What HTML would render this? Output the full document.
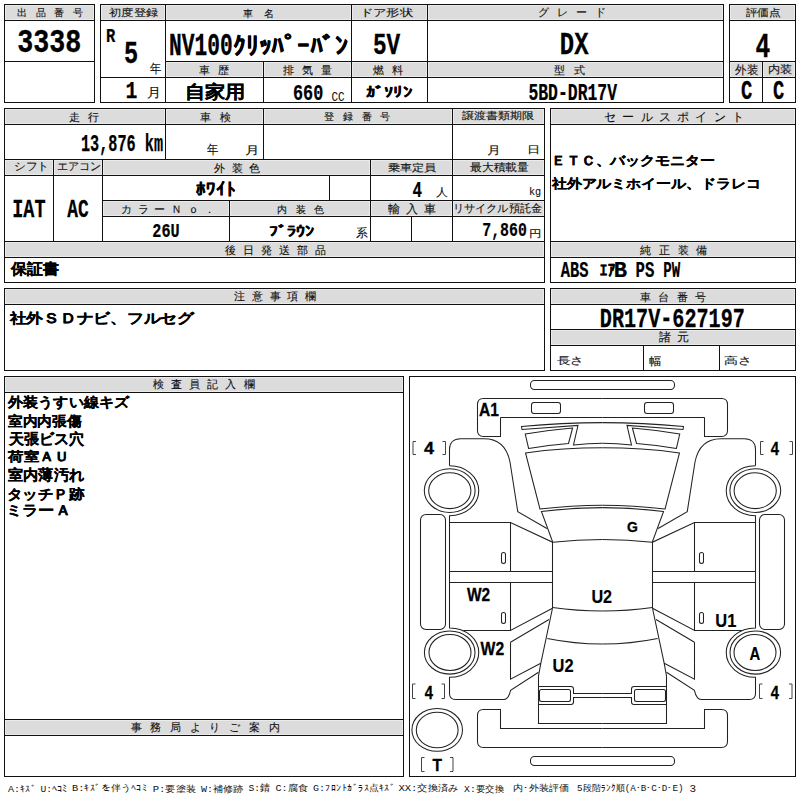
<!DOCTYPE html>
<html><head><meta charset="utf-8"><style>
html,body{margin:0;padding:0;background:#fff;width:800px;height:800px;overflow:hidden}
svg{display:block;font-family:"Liberation Sans",sans-serif}
</style></head><body>
<svg width="800" height="800" viewBox="0 0 800 800">
<rect x="0" y="0" width="800" height="800" fill="#fff"/>
<rect x="4" y="4" width="90" height="16" fill="#dcdcdc"/>
<rect x="4" y="4" width="91" height="1" fill="#111"/>
<rect x="4" y="102" width="91" height="1" fill="#111"/>
<rect x="4" y="4" width="1" height="99" fill="#111"/>
<rect x="94" y="4" width="1" height="99" fill="#111"/>
<rect x="4" y="20" width="91" height="1" fill="#111"/>
<rect x="4" y="61" width="91" height="1" fill="#111"/>
<rect x="100" y="4" width="623" height="16" fill="#dcdcdc"/>
<rect x="165" y="61" width="558" height="16" fill="#dcdcdc"/>
<rect x="100" y="4" width="624" height="1" fill="#111"/>
<rect x="100" y="102" width="624" height="1" fill="#111"/>
<rect x="100" y="4" width="1" height="99" fill="#111"/>
<rect x="723" y="4" width="1" height="99" fill="#111"/>
<rect x="100" y="20" width="624" height="1" fill="#111"/>
<rect x="165" y="61" width="559" height="1" fill="#111"/>
<rect x="100" y="77" width="624" height="1" fill="#111"/>
<rect x="165" y="4" width="1" height="99" fill="#111"/>
<rect x="351" y="4" width="1" height="99" fill="#111"/>
<rect x="427" y="4" width="1" height="99" fill="#111"/>
<rect x="263" y="61" width="1" height="42" fill="#111"/>
<rect x="729" y="4" width="66" height="16" fill="#dcdcdc"/>
<rect x="729" y="61" width="66" height="16" fill="#dcdcdc"/>
<rect x="729" y="4" width="67" height="1" fill="#111"/>
<rect x="729" y="102" width="67" height="1" fill="#111"/>
<rect x="729" y="4" width="1" height="99" fill="#111"/>
<rect x="795" y="4" width="1" height="99" fill="#111"/>
<rect x="729" y="20" width="67" height="1" fill="#111"/>
<rect x="729" y="61" width="67" height="1" fill="#111"/>
<rect x="729" y="77" width="67" height="1" fill="#111"/>
<rect x="762" y="61" width="1" height="42" fill="#111"/>
<rect x="4" y="108" width="540" height="16" fill="#dcdcdc"/>
<rect x="4" y="159" width="540" height="16" fill="#dcdcdc"/>
<rect x="102" y="200" width="442" height="16" fill="#dcdcdc"/>
<rect x="4" y="241" width="540" height="16" fill="#dcdcdc"/>
<rect x="4" y="108" width="541" height="1" fill="#111"/>
<rect x="4" y="282" width="541" height="1" fill="#111"/>
<rect x="4" y="108" width="1" height="175" fill="#111"/>
<rect x="544" y="108" width="1" height="175" fill="#111"/>
<rect x="4" y="124" width="541" height="1" fill="#111"/>
<rect x="4" y="159" width="541" height="1" fill="#111"/>
<rect x="4" y="175" width="541" height="1" fill="#111"/>
<rect x="102" y="200" width="443" height="1" fill="#111"/>
<rect x="102" y="216" width="443" height="1" fill="#111"/>
<rect x="4" y="241" width="541" height="1" fill="#111"/>
<rect x="4" y="257" width="541" height="1" fill="#111"/>
<rect x="165" y="108" width="1" height="52" fill="#111"/>
<rect x="263" y="108" width="1" height="52" fill="#111"/>
<rect x="452" y="108" width="1" height="134" fill="#111"/>
<rect x="53" y="159" width="1" height="83" fill="#111"/>
<rect x="102" y="159" width="1" height="83" fill="#111"/>
<rect x="370" y="159" width="1" height="83" fill="#111"/>
<rect x="329" y="175" width="1" height="26" fill="#111"/>
<rect x="229" y="200" width="1" height="42" fill="#111"/>
<rect x="411" y="216" width="1" height="26" fill="#111"/>
<rect x="550" y="108" width="245" height="16" fill="#dcdcdc"/>
<rect x="550" y="241" width="245" height="16" fill="#dcdcdc"/>
<rect x="550" y="108" width="246" height="1" fill="#111"/>
<rect x="550" y="282" width="246" height="1" fill="#111"/>
<rect x="550" y="108" width="1" height="175" fill="#111"/>
<rect x="795" y="108" width="1" height="175" fill="#111"/>
<rect x="550" y="124" width="246" height="1" fill="#111"/>
<rect x="550" y="241" width="246" height="1" fill="#111"/>
<rect x="550" y="257" width="246" height="1" fill="#111"/>
<rect x="4" y="288" width="540" height="16" fill="#dcdcdc"/>
<rect x="4" y="288" width="541" height="1" fill="#111"/>
<rect x="4" y="370" width="541" height="1" fill="#111"/>
<rect x="4" y="288" width="1" height="83" fill="#111"/>
<rect x="544" y="288" width="1" height="83" fill="#111"/>
<rect x="4" y="304" width="541" height="1" fill="#111"/>
<rect x="550" y="288" width="245" height="16" fill="#dcdcdc"/>
<rect x="550" y="329" width="245" height="16" fill="#dcdcdc"/>
<rect x="550" y="288" width="246" height="1" fill="#111"/>
<rect x="550" y="370" width="246" height="1" fill="#111"/>
<rect x="550" y="288" width="1" height="83" fill="#111"/>
<rect x="795" y="288" width="1" height="83" fill="#111"/>
<rect x="550" y="304" width="246" height="1" fill="#111"/>
<rect x="550" y="329" width="246" height="1" fill="#111"/>
<rect x="550" y="345" width="246" height="1" fill="#111"/>
<rect x="643" y="345" width="1" height="26" fill="#111"/>
<rect x="719" y="345" width="1" height="26" fill="#111"/>
<rect x="4" y="376" width="399" height="16" fill="#dcdcdc"/>
<rect x="4" y="719" width="399" height="16" fill="#dcdcdc"/>
<rect x="4" y="376" width="400" height="1" fill="#111"/>
<rect x="4" y="776" width="400" height="1" fill="#111"/>
<rect x="4" y="376" width="1" height="401" fill="#111"/>
<rect x="403" y="376" width="1" height="401" fill="#111"/>
<rect x="4" y="392" width="400" height="1" fill="#111"/>
<rect x="4" y="719" width="400" height="1" fill="#111"/>
<rect x="4" y="735" width="400" height="1" fill="#111"/>
<rect x="409" y="376" width="387" height="1" fill="#111"/>
<rect x="409" y="776" width="387" height="1" fill="#111"/>
<rect x="409" y="376" width="1" height="401" fill="#111"/>
<rect x="795" y="376" width="1" height="401" fill="#111"/>
<path d="M5 5h89v1h-89zM101 5h64v1h-64zM166 5h185v1h-185zM352 5h75v1h-75zM428 5h295v1h-295zM730 5h65v1h-65zM5 19h89v1h-89zM101 19h64v1h-64zM166 19h185v1h-185zM352 19h75v1h-75zM428 19h295v1h-295zM730 19h65v1h-65zM166 62h97v1h-97zM264 62h87v1h-87zM352 62h75v1h-75zM428 62h295v1h-295zM730 62h32v1h-32zM763 62h32v1h-32zM166 76h97v1h-97zM264 76h87v1h-87zM352 76h75v1h-75zM428 76h295v1h-295zM730 76h32v1h-32zM763 76h32v1h-32zM5 109h160v1h-160zM166 109h97v1h-97zM264 109h188v1h-188zM453 109h91v1h-91zM551 109h244v1h-244zM5 123h160v1h-160zM166 123h97v1h-97zM264 123h188v1h-188zM453 123h91v1h-91zM551 123h244v1h-244zM5 160h48v1h-48zM54 160h48v1h-48zM103 160h267v1h-267zM371 160h81v1h-81zM453 160h91v1h-91zM5 174h48v1h-48zM54 174h48v1h-48zM103 174h267v1h-267zM371 174h81v1h-81zM453 174h91v1h-91zM103 201h126v1h-126zM230 201h140v1h-140zM371 201h81v1h-81zM453 201h91v1h-91zM103 215h126v1h-126zM230 215h140v1h-140zM371 215h81v1h-81zM453 215h91v1h-91zM5 242h539v1h-539zM551 242h244v1h-244zM5 256h539v1h-539zM551 256h244v1h-244zM5 289h539v1h-539zM551 289h244v1h-244zM5 303h539v1h-539zM551 303h244v1h-244zM551 330h244v1h-244zM551 344h244v1h-244zM5 377h398v1h-398zM5 391h398v1h-398zM5 720h398v1h-398zM5 734h398v1h-398zM5 6h1v13h-1zM5 110h1v13h-1zM5 161h1v13h-1zM5 243h1v13h-1zM5 290h1v13h-1zM5 378h1v13h-1zM5 721h1v13h-1zM52 161h1v13h-1zM54 161h1v13h-1zM93 6h1v13h-1zM101 6h1v13h-1zM101 161h1v13h-1zM103 161h1v13h-1zM103 202h1v13h-1zM164 6h1v13h-1zM164 110h1v13h-1zM166 6h1v13h-1zM166 63h1v13h-1zM166 110h1v13h-1zM228 202h1v13h-1zM230 202h1v13h-1zM262 63h1v13h-1zM262 110h1v13h-1zM264 63h1v13h-1zM264 110h1v13h-1zM350 6h1v13h-1zM350 63h1v13h-1zM352 6h1v13h-1zM352 63h1v13h-1zM369 161h1v13h-1zM369 202h1v13h-1zM371 161h1v13h-1zM371 202h1v13h-1zM402 378h1v13h-1zM402 721h1v13h-1zM426 6h1v13h-1zM426 63h1v13h-1zM428 6h1v13h-1zM428 63h1v13h-1zM451 110h1v13h-1zM451 161h1v13h-1zM451 202h1v13h-1zM453 110h1v13h-1zM453 161h1v13h-1zM453 202h1v13h-1zM543 110h1v13h-1zM543 161h1v13h-1zM543 202h1v13h-1zM543 243h1v13h-1zM543 290h1v13h-1zM551 110h1v13h-1zM551 243h1v13h-1zM551 290h1v13h-1zM551 331h1v13h-1zM722 6h1v13h-1zM722 63h1v13h-1zM730 6h1v13h-1zM730 63h1v13h-1zM761 63h1v13h-1zM763 63h1v13h-1zM794 6h1v13h-1zM794 63h1v13h-1zM794 110h1v13h-1zM794 243h1v13h-1zM794 290h1v13h-1zM794 331h1v13h-1z" fill="#ebebeb"/>
<text x="16.80" y="16.20" font-size="10.47" textLength="66.20" lengthAdjust="spacing" fill="#111" stroke="#111" stroke-width="0.12" xml:space="preserve">出 品 番 号</text>
<text x="109.20" y="16.20" font-size="10.23" textLength="48.87" lengthAdjust="spacingAndGlyphs" fill="#111" stroke="#111" stroke-width="0.12" xml:space="preserve">初度登録</text>
<text x="242.80" y="16.50" font-size="10.43" textLength="31.20" lengthAdjust="spacing" fill="#111" stroke="#111" stroke-width="0.12" xml:space="preserve">車 名</text>
<text x="359.50" y="15.50" font-size="10.27" textLength="53.58" lengthAdjust="spacingAndGlyphs" fill="#111" stroke="#111" stroke-width="0.12" xml:space="preserve">ドア形状</text>
<text x="537.50" y="15.50" font-size="10.78" textLength="68.50" lengthAdjust="spacing" fill="#111" stroke="#111" stroke-width="0.12" xml:space="preserve">グ レ ー ド</text>
<text x="745.50" y="16.00" font-size="9.76" textLength="35.19" lengthAdjust="spacingAndGlyphs" fill="#111" stroke="#111" stroke-width="0.12" xml:space="preserve">評価点</text>
<text x="17.20" y="52.20" font-size="32.49" font-weight="bold" textLength="64.16" lengthAdjust="spacingAndGlyphs" fill="#000" stroke="#000" stroke-width="0.32" font-family="Liberation Mono" xml:space="preserve">3338</text>
<text x="106.00" y="42.40" font-size="20.79" font-weight="bold" textLength="9.29" lengthAdjust="spacingAndGlyphs" fill="#000" stroke="#000" stroke-width="0.21" font-family="Liberation Mono" xml:space="preserve">R</text>
<text x="124.00" y="63.40" font-size="32.18" font-weight="bold" textLength="14.18" lengthAdjust="spacingAndGlyphs" fill="#000" stroke="#000" stroke-width="0.32" font-family="Liberation Mono" xml:space="preserve">5</text>
<text x="149.60" y="72.60" font-size="12.57" textLength="11.25" lengthAdjust="spacingAndGlyphs" fill="#111" stroke="#111" stroke-width="0.12" xml:space="preserve">年</text>
<text x="125.60" y="98.40" font-size="24.79" font-weight="bold" textLength="11.87" lengthAdjust="spacingAndGlyphs" fill="#000" stroke="#000" stroke-width="0.25" font-family="Liberation Mono" xml:space="preserve">1</text>
<text x="147.40" y="97.00" font-size="12.53" textLength="14.07" lengthAdjust="spacingAndGlyphs" fill="#111" stroke="#111" stroke-width="0.12" xml:space="preserve">月</text>
<text x="169.00" y="54.50" font-size="31.53" font-weight="bold" textLength="63.69" lengthAdjust="spacingAndGlyphs" fill="#000" stroke="#000" stroke-width="0.32" font-family="Liberation Mono" xml:space="preserve">NV100</text>
<text x="233.40" y="53.60" font-size="23.89" font-weight="bold" textLength="114.28" lengthAdjust="spacingAndGlyphs" fill="#000" stroke="#000" stroke-width="0.24" xml:space="preserve">ｸﾘｯﾊﾟｰﾊﾞﾝ</text>
<text x="373.00" y="54.00" font-size="29.97" font-weight="bold" textLength="27.25" lengthAdjust="spacingAndGlyphs" fill="#000" stroke="#000" stroke-width="0.3" font-family="Liberation Mono" xml:space="preserve">5V</text>
<text x="559.80" y="53.80" font-size="31.15" font-weight="bold" textLength="28.66" lengthAdjust="spacingAndGlyphs" fill="#000" stroke="#000" stroke-width="0.31" font-family="Liberation Mono" xml:space="preserve">DX</text>
<text x="199.00" y="74.00" font-size="10.78" textLength="30.00" lengthAdjust="spacing" fill="#111" stroke="#111" stroke-width="0.12" xml:space="preserve">車 歴</text>
<text x="283.00" y="74.00" font-size="11.07" textLength="48.50" lengthAdjust="spacing" fill="#111" stroke="#111" stroke-width="0.12" xml:space="preserve">排 気 量</text>
<text x="373.00" y="74.00" font-size="11.03" textLength="29.50" lengthAdjust="spacing" fill="#111" stroke="#111" stroke-width="0.12" xml:space="preserve">燃 料</text>
<text x="554.20" y="73.50" font-size="10.65" textLength="31.00" lengthAdjust="spacing" fill="#111" stroke="#111" stroke-width="0.12" xml:space="preserve">型 式</text>
<text x="184.50" y="98.00" font-size="18.23" font-weight="bold" textLength="60.70" lengthAdjust="spacingAndGlyphs" fill="#000" stroke="#000" stroke-width="0.18" xml:space="preserve">自家用</text>
<text x="293.00" y="100.00" font-size="22.91" font-weight="bold" textLength="30.26" lengthAdjust="spacingAndGlyphs" fill="#000" stroke="#000" stroke-width="0.23" font-family="Liberation Mono" xml:space="preserve">660</text>
<text x="331.50" y="100.75" font-size="12.42" textLength="13.05" lengthAdjust="spacingAndGlyphs" fill="#111" stroke="#111" stroke-width="0.12" font-family="Liberation Mono" xml:space="preserve">CC</text>
<text x="365.60" y="97.25" font-size="14.41" font-weight="bold" textLength="46.44" lengthAdjust="spacingAndGlyphs" fill="#000" stroke="#000" stroke-width="0.14" xml:space="preserve">ｶﾞｿﾘﾝ</text>
<text x="528.40" y="100.00" font-size="23.86" font-weight="bold" textLength="88.66" lengthAdjust="spacingAndGlyphs" fill="#000" stroke="#000" stroke-width="0.24" font-family="Liberation Mono" xml:space="preserve">5BD-DR17V</text>
<text x="755.60" y="57.00" font-size="35.29" font-weight="bold" textLength="14.71" lengthAdjust="spacingAndGlyphs" fill="#000" stroke="#000" stroke-width="0.35" font-family="Liberation Mono" xml:space="preserve">4</text>
<text x="735.20" y="74.00" font-size="12.32" textLength="23.01" lengthAdjust="spacingAndGlyphs" fill="#111" stroke="#111" stroke-width="0.12" xml:space="preserve">外装</text>
<text x="767.50" y="73.00" font-size="11.22" textLength="24.51" lengthAdjust="spacingAndGlyphs" fill="#111" stroke="#111" stroke-width="0.12" xml:space="preserve">内装</text>
<text x="741.00" y="99.00" font-size="28.00" font-weight="bold" textLength="11.33" lengthAdjust="spacingAndGlyphs" fill="#000" stroke="#000" stroke-width="0.28" font-family="Liberation Mono" xml:space="preserve">C</text>
<text x="773.00" y="99.00" font-size="28.08" font-weight="bold" textLength="11.31" lengthAdjust="spacingAndGlyphs" fill="#000" stroke="#000" stroke-width="0.28" font-family="Liberation Mono" xml:space="preserve">C</text>
<text x="68.80" y="120.50" font-size="10.55" textLength="29.80" lengthAdjust="spacing" fill="#111" stroke="#111" stroke-width="0.12" xml:space="preserve">走 行</text>
<text x="200.00" y="120.75" font-size="10.63" textLength="30.60" lengthAdjust="spacing" fill="#111" stroke="#111" stroke-width="0.12" xml:space="preserve">車 検</text>
<text x="324.40" y="119.75" font-size="10.46" textLength="65.70" lengthAdjust="spacing" fill="#111" stroke="#111" stroke-width="0.12" xml:space="preserve">登 録 番 号</text>
<text x="462.00" y="119.00" font-size="10.49" textLength="72.10" lengthAdjust="spacingAndGlyphs" fill="#111" stroke="#111" stroke-width="0.12" xml:space="preserve">譲渡書類期限</text>
<text x="81.00" y="151.00" font-size="24.70" font-weight="bold" textLength="82.03" lengthAdjust="spacingAndGlyphs" fill="#000" stroke="#000" stroke-width="0.25" font-family="Liberation Mono" xml:space="preserve">13,876 km</text>
<text x="207.00" y="153.80" font-size="12.82" textLength="11.37" lengthAdjust="spacingAndGlyphs" fill="#111" stroke="#111" stroke-width="0.12" xml:space="preserve">年</text>
<text x="245.40" y="153.80" font-size="10.99" textLength="14.56" lengthAdjust="spacingAndGlyphs" fill="#111" stroke="#111" stroke-width="0.12" xml:space="preserve">月</text>
<text x="487.10" y="153.90" font-size="11.00" textLength="13.80" lengthAdjust="spacingAndGlyphs" fill="#111" stroke="#111" stroke-width="0.12" xml:space="preserve">月</text>
<text x="527.00" y="152.50" font-size="10.34" textLength="13.25" lengthAdjust="spacingAndGlyphs" fill="#111" stroke="#111" stroke-width="0.12" xml:space="preserve">日</text>
<text x="14.00" y="170.00" font-size="11.21" textLength="35.09" lengthAdjust="spacingAndGlyphs" fill="#111" stroke="#111" stroke-width="0.12" xml:space="preserve">シフト</text>
<text x="56.70" y="170.00" font-size="11.31" textLength="44.47" lengthAdjust="spacingAndGlyphs" fill="#111" stroke="#111" stroke-width="0.12" xml:space="preserve">エアコン</text>
<text x="214.00" y="171.90" font-size="10.51" textLength="46.40" lengthAdjust="spacing" fill="#111" stroke="#111" stroke-width="0.12" xml:space="preserve">外 装 色</text>
<text x="387.70" y="171.00" font-size="10.30" textLength="48.69" lengthAdjust="spacingAndGlyphs" fill="#111" stroke="#111" stroke-width="0.12" xml:space="preserve">乗車定員</text>
<text x="470.00" y="171.00" font-size="10.72" textLength="59.15" lengthAdjust="spacingAndGlyphs" fill="#111" stroke="#111" stroke-width="0.12" xml:space="preserve">最大積載量</text>
<text x="195.80" y="195.40" font-size="16.66" font-weight="bold" textLength="40.13" lengthAdjust="spacingAndGlyphs" fill="#000" stroke="#000" stroke-width="0.17" xml:space="preserve">ﾎﾜｲﾄ</text>
<text x="412.60" y="196.60" font-size="21.35" font-weight="bold" textLength="9.54" lengthAdjust="spacingAndGlyphs" fill="#000" stroke="#000" stroke-width="0.21" font-family="Liberation Mono" xml:space="preserve">4</text>
<text x="435.80" y="196.20" font-size="10.93" textLength="11.98" lengthAdjust="spacingAndGlyphs" fill="#111" stroke="#111" stroke-width="0.12" xml:space="preserve">人</text>
<text x="529.00" y="195.00" font-size="11.30" textLength="12.21" lengthAdjust="spacingAndGlyphs" fill="#111" stroke="#111" stroke-width="0.12" font-family="Liberation Mono" xml:space="preserve">kg</text>
<text x="12.20" y="216.80" font-size="26.17" font-weight="bold" textLength="33.36" lengthAdjust="spacingAndGlyphs" fill="#000" stroke="#000" stroke-width="0.26" font-family="Liberation Mono" xml:space="preserve">IAT</text>
<text x="67.20" y="216.70" font-size="26.05" font-weight="bold" textLength="21.42" lengthAdjust="spacingAndGlyphs" fill="#000" stroke="#000" stroke-width="0.26" font-family="Liberation Mono" xml:space="preserve">AC</text>
<text x="121.30" y="212.70" font-size="11.05" textLength="93.90" lengthAdjust="spacing" fill="#111" stroke="#111" stroke-width="0.12" xml:space="preserve">カ ラ ー Ｎ ｏ ．</text>
<text x="276.80" y="213.00" font-size="10.24" textLength="47.60" lengthAdjust="spacing" fill="#111" stroke="#111" stroke-width="0.12" xml:space="preserve">内 装 色</text>
<text x="387.80" y="213.20" font-size="11.84" textLength="48.00" lengthAdjust="spacing" fill="#111" stroke="#111" stroke-width="0.12" xml:space="preserve">輸 入 車</text>
<text x="452.80" y="212.00" font-size="11.40" textLength="89.17" lengthAdjust="spacingAndGlyphs" fill="#111" stroke="#111" stroke-width="0.12" xml:space="preserve">リサイクル預託金</text>
<text x="152.30" y="236.60" font-size="19.78" font-weight="bold" textLength="27.30" lengthAdjust="spacingAndGlyphs" fill="#000" stroke="#000" stroke-width="0.2" font-family="Liberation Mono" xml:space="preserve">26U</text>
<text x="269.00" y="235.60" font-size="13.93" font-weight="bold" textLength="45.35" lengthAdjust="spacingAndGlyphs" fill="#000" stroke="#000" stroke-width="0.14" xml:space="preserve">ﾌﾞﾗｳﾝ</text>
<text x="356.20" y="236.50" font-size="12.14" textLength="11.88" lengthAdjust="spacingAndGlyphs" fill="#111" stroke="#111" stroke-width="0.12" xml:space="preserve">系</text>
<text x="482.25" y="236.30" font-size="19.29" font-weight="bold" textLength="44.60" lengthAdjust="spacingAndGlyphs" fill="#000" stroke="#000" stroke-width="0.19" font-family="Liberation Mono" xml:space="preserve">7,860</text>
<text x="529.00" y="237.00" font-size="9.86" textLength="12.50" lengthAdjust="spacingAndGlyphs" fill="#111" stroke="#111" stroke-width="0.12" xml:space="preserve">円</text>
<text x="224.60" y="253.60" font-size="11.39" textLength="101.60" lengthAdjust="spacing" fill="#111" stroke="#111" stroke-width="0.12" xml:space="preserve">後 日 発 送 部 品</text>
<text x="11.00" y="274.40" font-size="14.98" font-weight="bold" textLength="47.80" lengthAdjust="spacingAndGlyphs" fill="#000" stroke="#000" stroke-width="0.2" xml:space="preserve">保証書</text>
<text x="604.10" y="121.00" font-size="12.43" textLength="139.70" lengthAdjust="spacing" fill="#111" stroke="#111" stroke-width="0.12" xml:space="preserve">セ ー ル ス ポ イ ン ト</text>
<text x="550.60" y="165.00" font-size="13.28" font-weight="bold" textLength="164.74" lengthAdjust="spacingAndGlyphs" fill="#000" stroke="#000" stroke-width="0.2" xml:space="preserve">ＥＴＣ、バックモニター</text>
<text x="551.55" y="187.90" font-size="13.06" font-weight="bold" textLength="209.69" lengthAdjust="spacingAndGlyphs" fill="#000" stroke="#000" stroke-width="0.2" xml:space="preserve">社外アルミホイール、ドラレコ</text>
<text x="640.20" y="253.50" font-size="11.29" textLength="67.00" lengthAdjust="spacing" fill="#111" stroke="#111" stroke-width="0.12" xml:space="preserve">純 正 装 備</text>
<text x="560.70" y="276.80" font-size="21.16" font-weight="bold" textLength="27.70" lengthAdjust="spacingAndGlyphs" fill="#000" stroke="#000" stroke-width="0.21" font-family="Liberation Mono" xml:space="preserve">ABS</text>
<text x="600.00" y="276.00" font-size="17.25" font-weight="bold" textLength="15.14" lengthAdjust="spacingAndGlyphs" fill="#000" stroke="#000" stroke-width="0.17" xml:space="preserve">ｴｱ</text>
<text x="613.80" y="276.80" font-size="21.16" font-weight="bold" textLength="13.29" lengthAdjust="spacingAndGlyphs" fill="#000" stroke="#000" stroke-width="0.21" font-family="Liberation Mono" xml:space="preserve">B</text>
<text x="635.60" y="276.80" font-size="21.16" font-weight="bold" textLength="18.79" lengthAdjust="spacingAndGlyphs" fill="#000" stroke="#000" stroke-width="0.21" font-family="Liberation Mono" xml:space="preserve">PS</text>
<text x="663.20" y="276.80" font-size="21.16" font-weight="bold" textLength="16.98" lengthAdjust="spacingAndGlyphs" fill="#000" stroke="#000" stroke-width="0.21" font-family="Liberation Mono" xml:space="preserve">PW</text>
<text x="234.00" y="300.00" font-size="11.44" textLength="82.00" lengthAdjust="spacing" fill="#111" stroke="#111" stroke-width="0.12" xml:space="preserve">注 意 事 項 欄</text>
<text x="9.50" y="323.00" font-size="14.12" font-weight="bold" textLength="184.36" lengthAdjust="spacingAndGlyphs" fill="#000" stroke="#000" stroke-width="0.2" xml:space="preserve">社外ＳＤナビ、フルセグ</text>
<text x="639.60" y="300.60" font-size="10.78" textLength="66.40" lengthAdjust="spacing" fill="#111" stroke="#111" stroke-width="0.12" xml:space="preserve">車 台 番 号</text>
<text x="599.80" y="327.20" font-size="27.00" font-weight="bold" textLength="145.04" lengthAdjust="spacingAndGlyphs" fill="#000" stroke="#000" stroke-width="0.27" font-family="Liberation Mono" xml:space="preserve">DR17V-627197</text>
<text x="659.10" y="341.40" font-size="12.03" textLength="30.20" lengthAdjust="spacing" fill="#111" stroke="#111" stroke-width="0.12" xml:space="preserve">諸 元</text>
<text x="556.50" y="364.30" font-size="10.25" textLength="27.29" lengthAdjust="spacingAndGlyphs" fill="#111" stroke="#111" stroke-width="0.12" xml:space="preserve">長さ</text>
<text x="649.40" y="364.60" font-size="10.55" textLength="12.37" lengthAdjust="spacingAndGlyphs" fill="#111" stroke="#111" stroke-width="0.12" xml:space="preserve">幅</text>
<text x="724.20" y="363.90" font-size="10.42" textLength="27.91" lengthAdjust="spacingAndGlyphs" fill="#111" stroke="#111" stroke-width="0.12" xml:space="preserve">高さ</text>
<text x="153.00" y="388.30" font-size="10.52" textLength="101.60" lengthAdjust="spacing" fill="#111" stroke="#111" stroke-width="0.12" xml:space="preserve">検 査 員 記 入 欄</text>
<text x="8.20" y="407.20" font-size="13.81" font-weight="bold" textLength="120.64" lengthAdjust="spacingAndGlyphs" fill="#000" stroke="#000" stroke-width="0.2" xml:space="preserve">外装うすい線キズ</text>
<text x="8.20" y="426.20" font-size="13.98" font-weight="bold" textLength="73.05" lengthAdjust="spacingAndGlyphs" fill="#000" stroke="#000" stroke-width="0.2" xml:space="preserve">室内内張傷</text>
<text x="8.80" y="444.10" font-size="14.74" font-weight="bold" textLength="75.18" lengthAdjust="spacingAndGlyphs" fill="#000" stroke="#000" stroke-width="0.2" xml:space="preserve">天張ビス穴</text>
<text x="8.20" y="461.40" font-size="13.38" font-weight="bold" textLength="61.64" lengthAdjust="spacingAndGlyphs" fill="#000" stroke="#000" stroke-width="0.2" xml:space="preserve">荷室ＡＵ</text>
<text x="8.20" y="479.60" font-size="14.90" font-weight="bold" textLength="75.72" lengthAdjust="spacingAndGlyphs" fill="#000" stroke="#000" stroke-width="0.2" xml:space="preserve">室内薄汚れ</text>
<text x="7.00" y="499.30" font-size="13.87" font-weight="bold" textLength="77.44" lengthAdjust="spacingAndGlyphs" fill="#000" stroke="#000" stroke-width="0.2" xml:space="preserve">タッチＰ跡</text>
<text x="6.00" y="514.60" font-size="13.74" font-weight="bold" textLength="64.88" lengthAdjust="spacingAndGlyphs" fill="#000" stroke="#000" stroke-width="0.2" xml:space="preserve">ミラーＡ</text>
<text x="130.60" y="730.80" font-size="10.88" textLength="148.90" lengthAdjust="spacing" fill="#111" stroke="#111" stroke-width="0.12" xml:space="preserve">事 務 局 よ り ご 案 内</text>
<text x="479.00" y="415.75" font-size="17.64" font-weight="bold" textLength="19.85" lengthAdjust="spacingAndGlyphs" fill="#000" stroke="#000" stroke-width="0.3" xml:space="preserve">A1</text>
<text x="627.00" y="532.10" font-size="15.49" font-weight="bold" textLength="10.91" lengthAdjust="spacingAndGlyphs" fill="#000" stroke="#000" stroke-width="0.3" xml:space="preserve">G</text>
<text x="466.90" y="601.00" font-size="17.92" font-weight="bold" textLength="23.18" lengthAdjust="spacingAndGlyphs" fill="#000" stroke="#000" stroke-width="0.3" xml:space="preserve">W2</text>
<text x="480.60" y="654.75" font-size="17.64" font-weight="bold" textLength="23.55" lengthAdjust="spacingAndGlyphs" fill="#000" stroke="#000" stroke-width="0.3" xml:space="preserve">W2</text>
<text x="591.40" y="602.70" font-size="17.46" font-weight="bold" textLength="20.69" lengthAdjust="spacingAndGlyphs" fill="#000" stroke="#000" stroke-width="0.15" xml:space="preserve">U2</text>
<text x="552.50" y="671.60" font-size="17.76" font-weight="bold" textLength="21.05" lengthAdjust="spacingAndGlyphs" fill="#000" stroke="#000" stroke-width="0.15" xml:space="preserve">U2</text>
<text x="715.25" y="627.25" font-size="19.27" font-weight="bold" textLength="21.05" lengthAdjust="spacingAndGlyphs" fill="#000" stroke="#000" stroke-width="0.15" xml:space="preserve">U1</text>
<text x="749.50" y="659.75" font-size="17.64" font-weight="bold" textLength="10.74" lengthAdjust="spacingAndGlyphs" fill="#000" stroke="#000" stroke-width="0.15" xml:space="preserve">A</text>
<text x="424.00" y="454.00" font-size="16.56" font-weight="bold" textLength="10.00" lengthAdjust="spacingAndGlyphs" fill="#000" stroke="#000" stroke-width="0.3" xml:space="preserve">4</text>
<text x="770.75" y="454.75" font-size="18.09" font-weight="bold" textLength="8.23" lengthAdjust="spacingAndGlyphs" fill="#000" stroke="#000" stroke-width="0.3" xml:space="preserve">4</text>
<text x="424.75" y="698.50" font-size="17.64" font-weight="bold" textLength="8.19" lengthAdjust="spacingAndGlyphs" fill="#000" stroke="#000" stroke-width="0.3" xml:space="preserve">4</text>
<text x="770.75" y="698.50" font-size="17.64" font-weight="bold" textLength="8.19" lengthAdjust="spacingAndGlyphs" fill="#000" stroke="#000" stroke-width="0.3" xml:space="preserve">4</text>
<text x="432.50" y="770.75" font-size="15.63" font-weight="bold" textLength="9.49" lengthAdjust="spacingAndGlyphs" fill="#000" stroke="#000" stroke-width="0.3" xml:space="preserve">T</text>
<text x="7.90" y="792.10" font-size="9.23" textLength="28.37" lengthAdjust="spacingAndGlyphs" fill="#111" font-family="Liberation Mono" xml:space="preserve">A:ｷｽﾞ</text>
<text x="40.40" y="792.10" font-size="9.59" textLength="26.58" lengthAdjust="spacingAndGlyphs" fill="#111" font-family="Liberation Mono" xml:space="preserve">U:ﾍｺﾐ</text>
<text x="72.00" y="791.00" font-size="9.37" textLength="75.19" lengthAdjust="spacingAndGlyphs" fill="#111" font-family="Liberation Mono" xml:space="preserve">B:ｷｽﾞを伴うﾍｺﾐ</text>
<text x="152.75" y="791.60" font-size="9.39" textLength="43.19" lengthAdjust="spacingAndGlyphs" fill="#111" font-family="Liberation Mono" xml:space="preserve">P:要塗装</text>
<text x="201.00" y="791.80" font-size="8.80" textLength="42.53" lengthAdjust="spacingAndGlyphs" fill="#111" font-family="Liberation Mono" xml:space="preserve">W:補修跡</text>
<text x="248.40" y="791.40" font-size="9.57" textLength="21.70" lengthAdjust="spacingAndGlyphs" fill="#111" font-family="Liberation Mono" xml:space="preserve">S:錆</text>
<text x="275.50" y="791.00" font-size="8.77" textLength="32.76" lengthAdjust="spacingAndGlyphs" fill="#111" font-family="Liberation Mono" xml:space="preserve">C:腐食</text>
<text x="313.10" y="791.40" font-size="9.19" textLength="82.19" lengthAdjust="spacingAndGlyphs" fill="#111" font-family="Liberation Mono" xml:space="preserve">G:ﾌﾛﾝﾄｶﾞﾗｽ点ｷｽﾞ</text>
<text x="398.40" y="791.40" font-size="9.28" textLength="60.33" lengthAdjust="spacingAndGlyphs" fill="#111" font-family="Liberation Mono" xml:space="preserve">XX:交換済み</text>
<text x="464.00" y="791.60" font-size="9.41" textLength="39.91" lengthAdjust="spacingAndGlyphs" fill="#111" font-family="Liberation Mono" xml:space="preserve">X:要交換</text>
<text x="513.00" y="791.00" font-size="9.48" textLength="56.22" lengthAdjust="spacingAndGlyphs" fill="#111" font-family="Liberation Mono" xml:space="preserve">内･外装評価</text>
<text x="577.00" y="791.40" font-size="9.22" textLength="106.49" lengthAdjust="spacingAndGlyphs" fill="#111" font-family="Liberation Mono" xml:space="preserve">5段階ﾗﾝｸ順(A･B･C･D･E)</text>
<text x="689.60" y="792.10" font-size="10.96" textLength="6.60" lengthAdjust="spacingAndGlyphs" fill="#111" font-family="Liberation Mono" xml:space="preserve">3</text>
<g fill="none" stroke="#222" stroke-width="1.05">
<rect x="530.5" y="380.5" width="144" height="9" rx="4"/>
<rect x="530.5" y="756.5" width="144" height="9" rx="4"/>
<path d="M 500.5 417.5 L 500.5 436.5 L 483.5 436.5 Q 477.5 436.5 477.5 430.5 L 477.5 404.5 Q 477.5 398.5 483.5 398.5 L 602.5 398.5"/>
<path d="M 500.5 417.5 L 602.5 417.5"/>
<rect x="531.5" y="402.5" width="29" height="11" rx="2.5"/>
<path d="M 602.5 422.6 Q 562 422.6 521.5 426.5 L 522 429.5 L 578 425.4 L 573.5 444.9 Q 588 443.3 602.5 443.3"/>
<path d="M 525.25 434 Q 549 430 572.6 428 L 568.5 443.4 Q 548 445 528.6 448.4 Z"/>
<path d="M 602.5 447.8 Q 563 447.8 525.5 452.9 L 540 509.1 Q 571 505.3 602.5 505.3"/>
<path d="M 602.5 507.6 Q 571 507.7 541.5 511.6 L 552.75 542.2 Q 577 539.4 602.5 539.4"/>
<path d="M 449.5 465.75 L 449.5 449.5 C 449.5 443 453.5 438.75 460.5 438.75 L 484 438.75 C 498 438.8 507 447 510 462 L 517.75 511.6 L 546.9 528.5"/>
<path d="M 449.5 465.75 C 466 465.75 478.75 477 478.75 490.75 C 478.75 504.5 466 515.75 449.5 515.75 L 449.5 627.9 C 466 627.9 478.75 639 478.75 652.6 C 478.75 666.2 466 677.25 449.5 677.25 L 449.5 693.5 Q 449.5 699.5 455.5 699.5 L 503.75 699.5 Q 508.5 699.5 510.6 690.4 L 538.5 672.25"/>
<ellipse cx="449.7" cy="490.6" rx="25.4" ry="21.8"/>
<ellipse cx="449.8" cy="490.7" rx="21.1" ry="17.9"/>
<ellipse cx="449.7" cy="652.5" rx="25.3" ry="21.6"/>
<ellipse cx="450" cy="652.5" rx="21" ry="18"/>
<rect x="420.5" y="514.5" width="25" height="115" rx="5.5"/>
<path d="M 449.5 522.5 L 510.5 522.5 L 552.5 542.2 L 552.5 608.25"/>
<path d="M 510.5 522.5 L 510.5 571.5 M 449.5 571.5 L 552.5 571.5 M 449.5 582.5 L 552.5 582.5 M 510.5 582.5 L 510.5 630.5 L 552.5 608.25"/>
<path d="M 463.3 630.5 L 510.5 630.5"/>
<rect x="501.5" y="552.5" width="4" height="11" rx="2"/>
<rect x="501.5" y="612.5" width="4" height="11" rx="2"/>
<path d="M 552.5 607.5 Q 577 611 602.5 611"/>
<path d="M 547.3 638.5 Q 574 644 602.5 644"/>
<path d="M 510.5 642.25 L 549 619.5 M 510.5 642.25 L 510.5 679.1 L 540.8 663.3"/>
<path d="M 552.5 608.25 L 540.8 663.3 L 538.5 676 L 538.5 723.5 L 602.5 723.5"/>
<path d="M 538.5 686.5 L 571 686.5 Q 573.5 686.5 573.5 689 L 573.5 693.5 L 602.5 693.5 M 602.5 697.5 L 573.5 697.5 L 573.5 702 Q 573.5 704.5 571 704.5 L 538.5 704.5"/>
<rect x="539.5" y="689.5" width="31" height="12" rx="2"/>
<path d="M 602.5 728.5 L 500.5 728.5 L 500.5 709.5 L 483.5 709.5 Q 477.5 709.5 477.5 715.5 L 477.5 741.5 Q 477.5 747.5 483.5 747.5 L 602.5 747.5"/>
<g transform="matrix(-1 0 0 1 1205 0)"><path d="M 500.5 417.5 L 500.5 436.5 L 483.5 436.5 Q 477.5 436.5 477.5 430.5 L 477.5 404.5 Q 477.5 398.5 483.5 398.5 L 602.5 398.5"/>
<path d="M 500.5 417.5 L 602.5 417.5"/>
<rect x="531.5" y="402.5" width="29" height="11" rx="2.5"/>
<path d="M 602.5 422.6 Q 562 422.6 521.5 426.5 L 522 429.5 L 578 425.4 L 573.5 444.9 Q 588 443.3 602.5 443.3"/>
<path d="M 525.25 434 Q 549 430 572.6 428 L 568.5 443.4 Q 548 445 528.6 448.4 Z"/>
<path d="M 602.5 447.8 Q 563 447.8 525.5 452.9 L 540 509.1 Q 571 505.3 602.5 505.3"/>
<path d="M 602.5 507.6 Q 571 507.7 541.5 511.6 L 552.75 542.2 Q 577 539.4 602.5 539.4"/>
<path d="M 449.5 465.75 L 449.5 449.5 C 449.5 443 453.5 438.75 460.5 438.75 L 484 438.75 C 498 438.8 507 447 510 462 L 517.75 511.6 L 546.9 528.5"/>
<path d="M 449.5 465.75 C 466 465.75 478.75 477 478.75 490.75 C 478.75 504.5 466 515.75 449.5 515.75 L 449.5 627.9 C 466 627.9 478.75 639 478.75 652.6 C 478.75 666.2 466 677.25 449.5 677.25 L 449.5 693.5 Q 449.5 699.5 455.5 699.5 L 503.75 699.5 Q 508.5 699.5 510.6 690.4 L 538.5 672.25"/>
<ellipse cx="449.7" cy="490.6" rx="25.4" ry="21.8"/>
<ellipse cx="449.8" cy="490.7" rx="21.1" ry="17.9"/>
<ellipse cx="449.7" cy="652.5" rx="25.3" ry="21.6"/>
<ellipse cx="450" cy="652.5" rx="21" ry="18"/>
<rect x="420.5" y="514.5" width="25" height="115" rx="5.5"/>
<path d="M 449.5 522.5 L 510.5 522.5 L 552.5 542.2 L 552.5 608.25"/>
<path d="M 510.5 522.5 L 510.5 571.5 M 449.5 571.5 L 552.5 571.5 M 449.5 582.5 L 552.5 582.5 M 510.5 582.5 L 510.5 630.5 L 552.5 608.25"/>
<path d="M 463.3 630.5 L 510.5 630.5"/>
<rect x="501.5" y="552.5" width="4" height="11" rx="2"/>
<rect x="501.5" y="612.5" width="4" height="11" rx="2"/>
<path d="M 552.5 607.5 Q 577 611 602.5 611"/>
<path d="M 547.3 638.5 Q 574 644 602.5 644"/>
<path d="M 510.5 642.25 L 549 619.5 M 510.5 642.25 L 510.5 679.1 L 540.8 663.3"/>
<path d="M 552.5 608.25 L 540.8 663.3 L 538.5 676 L 538.5 723.5 L 602.5 723.5"/>
<path d="M 538.5 686.5 L 571 686.5 Q 573.5 686.5 573.5 689 L 573.5 693.5 L 602.5 693.5 M 602.5 697.5 L 573.5 697.5 L 573.5 702 Q 573.5 704.5 571 704.5 L 538.5 704.5"/>
<rect x="539.5" y="689.5" width="31" height="12" rx="2"/>
<path d="M 602.5 728.5 L 500.5 728.5 L 500.5 709.5 L 483.5 709.5 Q 477.5 709.5 477.5 715.5 L 477.5 741.5 Q 477.5 747.5 483.5 747.5 L 602.5 747.5"/></g>
<ellipse cx="437.2" cy="729.9" rx="25.3" ry="21.4"/>
<ellipse cx="437.2" cy="730" rx="20.9" ry="17.75"/>
</g>
<path d="M 416 441.5 L 413 441.5 L 413 454.5 L 416 454.5" fill="none" stroke="#444" stroke-width="1"/>
<path d="M 442.5 441.5 L 445.5 441.5 L 445.5 454.5 L 442.5 454.5" fill="none" stroke="#444" stroke-width="1"/>
<path d="M 763.5 441.5 L 760.5 441.5 L 760.5 454.5 L 763.5 454.5" fill="none" stroke="#444" stroke-width="1"/>
<path d="M 789.5 441.5 L 792.5 441.5 L 792.5 454.5 L 789.5 454.5" fill="none" stroke="#444" stroke-width="1"/>
<path d="M 415.5 684 L 412.5 684 L 412.5 698.5 L 415.5 698.5" fill="none" stroke="#444" stroke-width="1"/>
<path d="M 441.5 684 L 444.5 684 L 444.5 698.5 L 441.5 698.5" fill="none" stroke="#444" stroke-width="1"/>
<path d="M 762.5 684 L 759.5 684 L 759.5 698.5 L 762.5 698.5" fill="none" stroke="#444" stroke-width="1"/>
<path d="M 789 684 L 792 684 L 792 698.5 L 789 698.5" fill="none" stroke="#444" stroke-width="1"/>
<path d="M 424.5 757.5 L 421.5 757.5 L 421.5 771.5 L 424.5 771.5" fill="none" stroke="#444" stroke-width="1"/>
<path d="M 450 757.5 L 453 757.5 L 453 771.5 L 450 771.5" fill="none" stroke="#444" stroke-width="1"/>
</svg>
</body></html>
